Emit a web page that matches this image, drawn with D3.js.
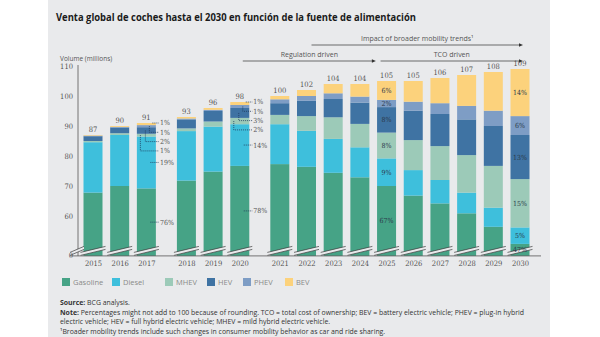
<!DOCTYPE html>
<html>
<head>
<meta charset="utf-8">
<script src="https://cdn.jsdelivr.net/npm/d3@7"></script>
<style>
  body { margin: 0; background: #fff; }
  svg { display: block; font-family: "Open Sans", sans-serif; }
  .num { font-family: "DejaVu Serif Condensed", "DejaVu Serif", serif; font-stretch: condensed; }
</style>
</head>
<body>
<svg id="chart" width="600" height="337"></svg>
<script>
// data (millions of cars)
var years    = [2015, 2016, 2017, 2018, 2019, 2020, 2021, 2022, 2023, 2024, 2025, 2026, 2027, 2028, 2029, 2030];
var groups   = [0, 0, 0, 1, 1, 1, 2, 2, 2, 2, 2, 2, 2, 2, 2, 2];
var totals   = [87, 90, 91, 93, 96, 98, 100, 102, 104, 104, 105, 105, 106, 107, 108, 109];
var gasoline = [67.8, 70.0, 69.2, 71.8, 74.8, 76.7, 77.3, 76.4, 74.4, 72.9, 70.0, 66.8, 64.2, 60.9, 56.4, 50.7];
var diesel   = [16.8, 17.0, 17.3, 16.5, 15.0, 13.9, 13.3, 12.0, 11.3, 10.0, 9.2, 8.5, 7.8, 6.9, 6.4, 5.5];
var mhev     = [0.4, 0.6, 0.9, 0.9, 1.7, 2.1, 3.1, 4.9, 7.2, 7.8, 8.6, 10.0, 11.3, 12.5, 13.9, 16.1];
var hev      = [1.6, 1.9, 2.2, 3.0, 3.5, 3.3, 3.9, 5.1, 6.1, 7.1, 8.5, 9.8, 10.7, 11.9, 13.3, 14.7];
var phev     = [0.2, 0.2, 0.7, 0.3, 0.4, 1.0, 1.3, 1.6, 1.9, 2.0, 2.4, 3.0, 3.6, 4.5, 5.1, 6.3];
var bev      = [0.2, 0.3, 0.7, 0.5, 0.6, 1.0, 1.1, 2.0, 3.1, 4.2, 6.3, 6.9, 8.4, 10.3, 12.9, 15.7];

var seriesNames = ["Gasoline", "Diesel", "MHEV", "HEV", "PHEV", "BEV"];
var seriesColors = ["#46a386", "#3ebfdc", "#9ccab8", "#3f73a3", "#7e9dc5", "#fcd27c"];
var yTicks = [60, 70, 80, 90, 100, 110];

// percentage callouts, in series order (Gasoline ... BEV)
var outsideYears = [2017, 2020];
var outsidePct = [[76, 19, 1, 2, 1, 1], [78, 14, 2, 3, 1, 1]];
var insideYears = [2025, 2030];
var insidePct = [[67, 9, 8, 8, 2, 6], [47, 5, 15, 13, 6, 14]];

var arrows = [
  {label: "Impact of broader mobility trends\u00b9", from: 2022, to: 2030, row: 0},
  {label: "Regulation driven", from: 2020, to: 2024, row: 1},
  {label: "TCO driven", from: 2025, to: 2030, row: 1}
];

var svg = d3.select("#chart");
var bg = "#e9eaec";

svg.append("rect")
    .attr("x", 48).attr("y", 0)
    .attr("width", 502).attr("height", 337)
    .attr("fill", bg);

var series = [gasoline, diesel, mhev, hev, phev, bev];
var table = years.map(function(yr, i) {
  var row = {year: yr, i: i};
  seriesNames.forEach(function(k, j) { row[k] = series[j][i]; });
  return row;
});

var y = d3.scaleLinear().domain([60, 110]).range([216, 66]);
var cut = 46.7;               // value sitting on the broken baseline (labelled 0)
var baseY = y(cut);

var x = d3.scaleLinear().domain([0, 16]).range([93, 520]);
function xPos(i) { return x(i + 0.5 * groups[i]); }
var barW = 19;

var stacked = d3.stack().keys(seriesNames)(table);

// bars
var layer = svg.append("g").selectAll("g")
    .data(stacked)
  .enter().append("g")
    .attr("fill", function(d, j) { return seriesColors[j]; });

layer.selectAll("rect")
    .data(function(d) { return d; })
  .enter().append("rect")
    .attr("x", function(d) { return xPos(d.data.i) - barW / 2; })
    .attr("y", function(d) { return y(d[1]); })
    .attr("width", barW)
    .attr("height", function(d) { return Math.max(0, Math.min(y(d[0]), baseY) - y(d[1])); });

// axis break marks on each bar and on the y axis
function breakMark(x0, x1) {
  var yb = baseY - 3.5, s = 6, gap = 3;
  var g = svg.append("g");
  g.append("polygon")
      .attr("points", [[x0, yb], [x1, yb - s], [x1, yb - s + gap], [x0, yb + gap]].join(" "))
      .attr("fill", bg);
  [0, gap].forEach(function(o) {
    g.append("line")
        .attr("x1", x0).attr("y1", yb + o)
        .attr("x2", x1).attr("y2", yb - s + o)
        .attr("stroke", "#3a3a3a").attr("stroke-width", 0.7);
  });
}

// axes
svg.append("line")
    .attr("x1", 78).attr("x2", 78)
    .attr("y1", y(110) - 1).attr("y2", baseY)
    .attr("stroke", "#555").attr("stroke-width", 0.8);
svg.append("line")
    .attr("x1", 70).attr("x2", 541)
    .attr("y1", baseY).attr("y2", baseY)
    .attr("stroke", "#555").attr("stroke-width", 0.8);

years.forEach(function(yr, i) { breakMark(xPos(i) - barW / 2 - 3, xPos(i) + barW / 2 + 3); });
breakMark(70, 84);

var yAxis = svg.append("g")
    .attr("class", "num")
    .attr("transform", "translate(78,0)")
    .call(d3.axisLeft(y).tickValues(yTicks).tickSize(0).tickPadding(5));
yAxis.select(".domain").remove();
yAxis.selectAll("text").attr("font-size", 7.5).attr("fill", "#555").attr("font-family", null);

svg.append("text")
    .attr("class", "num")
    .attr("x", 73).attr("y", baseY)
    .attr("dy", "0.32em")
    .attr("text-anchor", "end")
    .attr("font-size", 7.5).attr("fill", "#555")
    .text("0");

var xAxis = svg.append("g")
    .attr("class", "num")
    .attr("transform", "translate(0," + baseY + ")")
    .call(d3.axisBottom(x)
      .tickValues(years.map(function(yr, i) { return i + 0.5 * groups[i]; }))
      .tickFormat(function(d, i) { return years[i]; })
      .tickSize(0).tickPadding(5));
xAxis.select(".domain").remove();
xAxis.selectAll("text").attr("font-size", 7.5).attr("fill", "#555").attr("font-family", null);

// totals
svg.append("g").selectAll("text")
    .data(table)
  .enter().append("text")
    .attr("class", "num")
    .attr("x", function(d) { return xPos(d.i); })
    .attr("y", function(d) { return y(totals[d.i]) - 3; })
    .attr("text-anchor", "middle")
    .attr("font-size", 7.5).attr("fill", "#555")
    .text(function(d) { return totals[d.i]; });

function segMid(i, j) {
  var s = stacked[j][i];
  return (Math.min(y(s[0]), baseY) + y(s[1])) / 2;
}

// labels inside the bars
insideYears.forEach(function(yr, k) {
  var i = years.indexOf(yr);
  insidePct[k].forEach(function(p, j) {
    svg.append("text")
        .attr("class", "num")
        .attr("x", xPos(i)).attr("y", segMid(i, j))
        .attr("dy", "0.35em")
        .attr("text-anchor", "middle")
        .attr("font-size", 7).attr("fill", "#2b3a4a")
        .text(p + "%");
  });
});

// labels to the right with dotted leaders
var leaderOffset = [4, 4, -6, -1, 3, 6];
outsideYears.forEach(function(yr, k) {
  var i = years.indexOf(yr);
  var cx = xPos(i), lx = cx + barW / 2 + 3;
  var top = y(totals[i]);
  outsidePct[k].forEach(function(p, j) {
    var ly, ex = cx + leaderOffset[j], sy = segMid(i, j);
    if (j < 2) { ly = sy; }
    else { ly = top + (5 - j) * 9.3; }
    var pts = (j < 2 || j === 5) ? [[ex, ly], [lx, ly]] : [[ex, sy], [ex, ly], [lx, ly]];
    svg.append("path")
        .attr("d", d3.line()(pts))
        .attr("fill", "none")
        .attr("stroke", "#1e3a5c").attr("stroke-width", 0.8)
        .attr("stroke-dasharray", "1,1");
    svg.append("text")
        .attr("class", "num")
        .attr("x", lx + 1).attr("y", ly)
        .attr("dy", "0.35em")
        .attr("font-size", 7).attr("fill", "#555")
        .text(p + "%");
  });
});

// arrows on top
var arrowRows = [45, 61];
arrows.forEach(function(a) {
  var i0 = years.indexOf(a.from), i1 = years.indexOf(a.to);
  var x0 = xPos(i0) + (a.row === 0 ? 5 : (a.from === 2025 ? -6 : 3));
  var x1 = xPos(i1) + (a.to === 2030 ? 3 : 16);
  var yy = arrowRows[a.row];
  svg.append("line")
      .attr("x1", x0).attr("x2", x1 - 3)
      .attr("y1", yy).attr("y2", yy)
      .attr("stroke", "#333").attr("stroke-width", 0.7);
  svg.append("path")
      .attr("d", "M" + x1 + "," + yy + "l-4,-1.8v3.6z")
      .attr("fill", "#333");
  svg.append("text")
      .attr("x", (x0 + x1) / 2).attr("y", yy - 4)
      .attr("text-anchor", "middle")
      .attr("font-size", 7).attr("fill", "#555")
      .text(a.label);
});

// title and axis label
svg.append("text")
    .attr("x", 56).attr("y", 21)
    .attr("font-size", 10).attr("font-weight", "bold").attr("fill", "#1a1a1a")
    .attr("textLength", 360).attr("lengthAdjust", "spacingAndGlyphs")
    .text("Venta global de coches hasta el 2030 en función de la fuente de alimentación");

svg.append("text")
    .attr("x", 60).attr("y", 61)
    .attr("font-size", 6.5).attr("fill", "#555")
    .text("Volume (millions)");

// legend
var legendX = [62, 112, 165, 207, 243, 285];
var legend = svg.append("g").selectAll("g")
    .data(seriesNames)
  .enter().append("g")
    .attr("transform", function(d, j) { return "translate(" + legendX[j] + ",278)"; });
legend.append("rect")
    .attr("width", 8).attr("height", 8)
    .attr("fill", function(d, j) { return seriesColors[j]; });
legend.append("text")
    .attr("x", 11).attr("y", 7)
    .attr("font-size", 7.5).attr("fill", "#8a8a8a")
    .text(String);

// notes
var notes = svg.append("g").attr("font-size", 6.9).attr("fill", "#333");
var src = notes.append("text").attr("x", 60).attr("y", 304.5);
src.append("tspan").attr("font-weight", "bold").text("Source:");
src.append("tspan").text(" BCG analysis.");
var n1 = notes.append("text").attr("x", 60).attr("y", 315)
    .attr("textLength", 464).attr("lengthAdjust", "spacingAndGlyphs");
n1.append("tspan").attr("font-weight", "bold").text("Note:");
n1.append("tspan").text(" Percentages might not add to 100 because of rounding. TCO = total cost of ownership; BEV = battery electric vehicle; PHEV = plug-in hybrid");
notes.append("text").attr("x", 60).attr("y", 324)
    .text("electric vehicle; HEV = full hybrid electric vehicle; MHEV = mild hybrid electric vehicle.");
notes.append("text").attr("x", 60).attr("y", 333.5)
    .text("\u00b9Broader mobility trends include such changes in consumer mobility behavior as car and ride sharing.");
</script>
</body>
</html>
